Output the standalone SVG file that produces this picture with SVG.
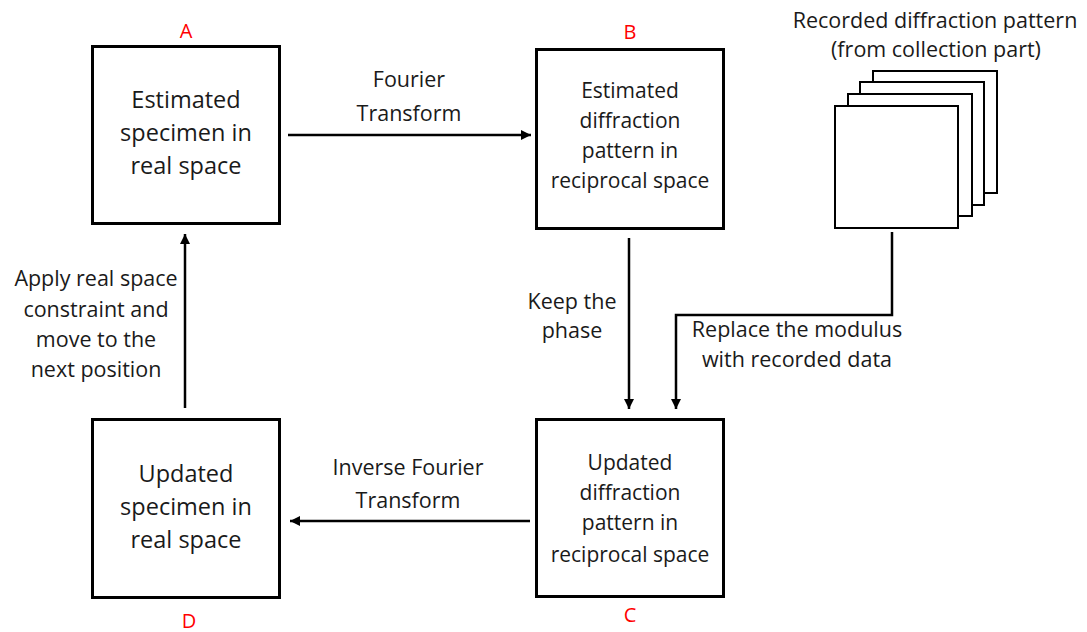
<svg xmlns="http://www.w3.org/2000/svg" width="1087" height="632" viewBox="0 0 1087 632">
<style>
.box{fill:#fff;stroke:#000;stroke-width:3}
.sheet{fill:#fff;stroke:#000;stroke-width:2}
.t{font-family:"Open Sans","Noto Sans",sans-serif;fill:#1a1a1a;text-anchor:middle}
.big{font-size:23.5px}
.mid{font-size:21px}
.lab{font-size:21.5px}
.red{font-family:"Open Sans","Noto Sans",sans-serif;fill:#ff0000;font-size:20px;text-anchor:middle}
.con{fill:none;stroke:#000;stroke-width:2.5;marker-end:url(#ah)}
</style>
<defs>
<marker id="ah" markerUnits="userSpaceOnUse" markerWidth="12" markerHeight="10" refX="10" refY="5" orient="auto">
<path d="M0,0 L10,5 L0,10 Z" fill="#000"/>
</marker>
</defs>
<rect width="1087" height="632" fill="#fff"/>
<g id="nodeA">
<rect class="box" x="92.5" y="46.5" width="187" height="177"/>
<text class="red" x="186" y="38">A</text>
<text class="t big" x="186" y="108">Estimated</text>
<text class="t big" x="186" y="141">specimen in</text>
<text class="t big" x="186" y="174">real space</text>
</g>
<g id="nodeB">
<rect class="box" x="536.5" y="49.5" width="187" height="179"/>
<text class="red" x="630" y="39">B</text>
<text class="t mid" x="630" y="98">Estimated</text>
<text class="t mid" x="630" y="128">diffraction</text>
<text class="t mid" x="630" y="158">pattern in</text>
<text class="t mid" x="630" y="188">reciprocal space</text>
</g>
<g id="nodeC">
<rect class="box" x="536.5" y="419.5" width="187" height="177"/>
<text class="red" x="630" y="622">C</text>
<text class="t mid" x="630" y="470">Updated</text>
<text class="t mid" x="630" y="500">diffraction</text>
<text class="t mid" x="630" y="530">pattern in</text>
<text class="t mid" x="630" y="562">reciprocal space</text>
</g>
<g id="nodeD">
<rect class="box" x="92.5" y="419.5" width="187" height="178"/>
<text class="red" x="189" y="628">D</text>
<text class="t big" x="186" y="482">Updated</text>
<text class="t big" x="186" y="515">specimen in</text>
<text class="t big" x="186" y="548">real space</text>
</g>
<g id="recorded">
<rect class="sheet" x="873" y="71" width="124" height="122"/>
<rect class="sheet" x="860" y="82" width="124" height="123"/>
<rect class="sheet" x="848" y="94" width="124" height="122"/>
<rect class="sheet" x="835" y="106" width="123" height="122"/>
<text class="t lab" x="935" y="28">Recorded diffraction pattern</text>
<text class="t lab" x="936" y="57">(from collection part)</text>
</g>
<g id="connectors">
<path class="con" d="M288,135 H531"/>
<path class="con" d="M629,238 V409"/>
<path class="con" d="M892,232 V315 H676 V409"/>
<path class="con" d="M530,521 H290"/>
<path class="con" d="M185,408 V234"/>
<text class="t lab" x="409" y="87">Fourier</text>
<text class="t lab" x="409" y="121">Transform</text>
<text class="t lab" x="572" y="309">Keep the</text>
<text class="t lab" x="572" y="338">phase</text>
<text class="t lab" x="797" y="337">Replace the modulus</text>
<text class="t lab" x="797" y="367">with recorded data</text>
<text class="t lab" x="408" y="475">Inverse Fourier</text>
<text class="t lab" x="408" y="508">Transform</text>
<text class="t lab" x="96" y="286">Apply real space</text>
<text class="t lab" x="96" y="317">constraint and</text>
<text class="t lab" x="96" y="347">move to the</text>
<text class="t lab" x="96" y="377">next position</text>
</g>
</svg>
